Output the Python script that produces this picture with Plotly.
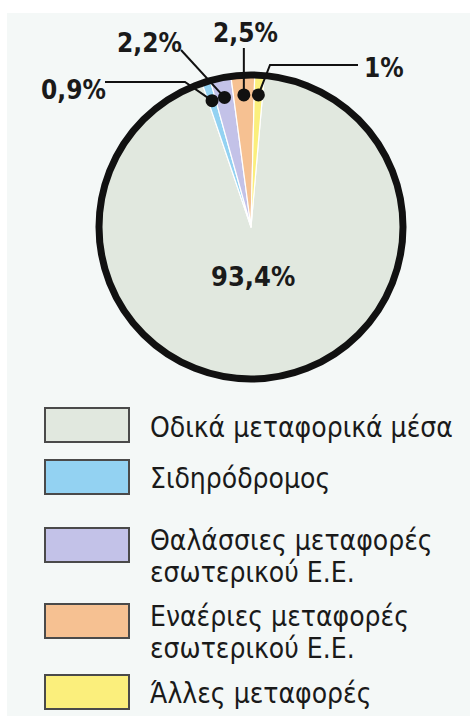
import math
import plotly.graph_objects as go

# ---------------- data ----------------
categories = [
    "Οδικά μεταφορικά μέσα",
    "Σιδηρόδρομος",
    "Θαλάσσιες μεταφορές εσωτερικού Ε.Ε.",
    "Εναέριες μεταφορές εσωτερικού Ε.Ε.",
    "Άλλες μεταφορές",
]
shares = [93.4, 0.9, 2.2, 2.5, 1.0]
value_labels = ["93,4%", "0,9%", "2,2%", "2,5%", "1%"]
colors = ["#e1e8df", "#93d2f2", "#c3c2e8", "#f6c192", "#fbef7c"]

# ---------------- layout geometry (pixels) ----------------
W, H = 474, 727
CX, CY, R = 251, 227, 152
ROTATION = 5  # degrees clockwise from 12 o'clock where first slice starts

FONT_REG = "Liberation Sans Narrow, DejaVu Sans Condensed, Arial Narrow, sans-serif"
FONT_BOLD = "Liberation Sans Narrow, DejaVu Sans Condensed, Arial Narrow, sans-serif"
TXT = "#1a1a1a"


def px(x):
    return x / W


def py(y):
    return 1 - y / H


fig = go.Figure()

fig.add_trace(go.Pie(
    labels=categories,
    values=shares,
    sort=False,
    direction="clockwise",
    rotation=ROTATION,
    marker=dict(colors=colors, line=dict(color="#ffffff", width=1.2)),
    textinfo="none",
    hoverinfo="label+percent",
    showlegend=False,
    domain=dict(x=[px(CX - R), px(CX + R)], y=[py(CY + R), py(CY - R)]),
))

shapes = []
annotations = []

# background panel
shapes.append(dict(type="rect", xref="paper", yref="paper",
                   x0=px(7), x1=px(470), y0=py(716), y1=py(13),
                   fillcolor="#f4f8f7", line=dict(width=0), layer="below"))

# thick outline of the pie
shapes.append(dict(type="circle", xref="paper", yref="paper",
                   x0=px(CX - R), x1=px(CX + R), y0=py(CY + R), y1=py(CY - R),
                   line=dict(color="#111111", width=7), layer="above"))

# mid angles of slices, derived from the data
total = sum(shares)
mid_angles = []
acc = ROTATION
for v in shares:
    span = 360 * v / total
    mid_angles.append(acc + span / 2)
    acc += span

DOT_R = 0.87 * R
dots = []
for a in mid_angles:
    rad = math.radians(a)
    dots.append((CX + DOT_R * math.sin(rad), CY - DOT_R * math.cos(rad)))

# leader lines (label end points are layout; dot end comes from the data)
leaders = {
    1: [(105, 82), (185, 82)],   # 0,9%
    2: [(181, 50)],              # 2,2%
    3: None,                     # 2,5% vertical
    4: [(358, 65), (270, 65)],   # 1%
}
label_pos = {
    1: (73, 90),
    2: (149, 43),
    3: (245, 33),
    4: (384, 68),
}

for i in range(1, 5):
    dx, dy = dots[i]
    if leaders[i] is None:
        pts = [(dx, 48), (dx, dy)]
    else:
        pts = leaders[i] + [(dx, dy)]
    path = "M " + " L ".join(f"{px(x):.5f},{py(y):.5f}" for x, y in pts)
    shapes.append(dict(type="path", xref="paper", yref="paper", path=path,
                       line=dict(color="#111111", width=2), layer="above"))
    rr = 6.5
    shapes.append(dict(type="circle", xref="paper", yref="paper",
                       x0=px(dx - rr), x1=px(dx + rr), y0=py(dy + rr), y1=py(dy - rr),
                       fillcolor="#111111", line=dict(color="#111111", width=0),
                       layer="above"))
    lx, ly = label_pos[i]
    annotations.append(dict(x=px(lx), y=py(ly), xref="paper", yref="paper",
                            text=f"<b>{value_labels[i]}</b>", showarrow=False,
                            xanchor="center", yanchor="middle",
                            font=dict(family=FONT_BOLD, size=26, color=TXT)))

# big label inside the pie
annotations.append(dict(x=px(253), y=py(277), xref="paper", yref="paper",
                        text=f"<b>{value_labels[0]}</b>", showarrow=False,
                        xanchor="center", yanchor="middle",
                        font=dict(family=FONT_BOLD, size=27, color=TXT)))

# ---------------- custom legend ----------------
box_centers = [425, 477, 545, 621, 692]
text_centers = [428, 478, 556, 632, 693]
BOX_X0, BOX_X1, BOX_H = 45, 129, 34
TEXT_X = 148
LINE_GAP = 32

for name, col, bc, tc in zip(categories, colors, box_centers, text_centers):
    shapes.append(dict(type="rect", xref="paper", yref="paper",
                       x0=px(BOX_X0), x1=px(BOX_X1),
                       y0=py(bc + BOX_H / 2), y1=py(bc - BOX_H / 2),
                       fillcolor=col, line=dict(color="#4a4a4a", width=2),
                       layer="above"))
    if " εσωτερικού" in name:
        lines = [name.split(" εσωτερικού")[0], "εσωτερικού" + name.split(" εσωτερικού")[1]]
    else:
        lines = [name]
    n = len(lines)
    for k, line in enumerate(lines):
        yy = tc + (k - (n - 1) / 2) * LINE_GAP
        annotations.append(dict(x=px(TEXT_X), y=py(yy), xref="paper", yref="paper",
                                text=line, showarrow=False,
                                xanchor="left", yanchor="middle",
                                font=dict(family=FONT_REG, size=28, color=TXT)))

fig.update_layout(
    width=W, height=H,
    margin=dict(l=0, r=0, t=0, b=0),
    paper_bgcolor="#ffffff",
    plot_bgcolor="rgba(0,0,0,0)",
    shapes=shapes,
    annotations=annotations,
    showlegend=False,
)

fig.write_html("out.html")
